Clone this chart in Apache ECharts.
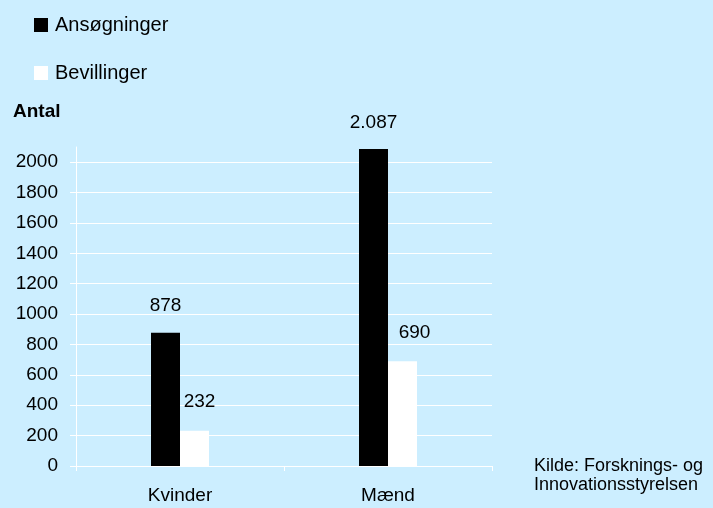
<!DOCTYPE html>
<html>
<head>
<meta charset="utf-8">
<script src="https://cdn.jsdelivr.net/npm/echarts@6/dist/echarts.min.js"></script>
<style>
  html, body { margin: 0; padding: 0; background: #cceeff; }
  #main { width: 713px; height: 508px; }
</style>
</head>
<body>
<div id="main"></div>
<script>
// data
const categories = ['Kvinder', 'Mænd'];
const ansoegninger = [878, 2087];
const bevillinger = [232, 690];
const seriesNames = ['Ansøgninger', 'Bevillinger'];

const font = '"Liberation Sans", Arial, sans-serif';
// labels i originalen sidder lidt forskudt til højre
const whiteLabelShift = [5, 12];

// dansk tusindtalsseparator: 2087 -> 2.087
function fmt(v) {
  return String(v).replace(/\B(?=(\d{3})+(?!\d))/g, '.');
}

const chart = echarts.init(document.getElementById('main'));

const barLabel = {
  show: true,
  position: 'top',
  distance: 17,
  fontFamily: font,
  fontSize: 19,
  color: '#000',
  formatter: (p) => fmt(p.value),
};

const option = {
  backgroundColor: '#cceeff',
  textStyle: { fontFamily: font, color: '#000' },
  title: [
    {
      text: 'Antal',
      left: 8,
      top: 97,
      textStyle: { fontFamily: font, fontSize: 19, fontWeight: 'bold', color: '#000' },
    },
    {
      text: 'Kilde: Forsknings- og\nInnovationsstyrelsen',
      left: 529,
      top: 452,
      textStyle: { fontFamily: font, fontSize: 18, fontWeight: 'normal', color: '#000', lineHeight: 19 },
    },
  ],
  legend: {
    data: seriesNames,
    orient: 'vertical',
    left: 29,
    top: 10,
    itemWidth: 14,
    itemHeight: 14,
    itemGap: 28,
    icon: 'rect',
    textStyle: { fontFamily: font, fontSize: 20, color: '#000', padding: [0, 0, 0, 2] },
  },
  grid: {
    left: 76,
    right: 221,
    top: 147,
    bottom: 42,
    containLabel: false,
  },
  xAxis: {
    type: 'category',
    data: categories,
    axisLine: { lineStyle: { color: '#fff', width: 1 } },
    axisTick: { show: true, length: 5, lineStyle: { color: '#fff' } },
    axisLabel: { fontFamily: font, fontSize: 19, color: '#000', margin: 20 },
  },
  yAxis: {
    type: 'value',
    min: 0,
    max: 2100,
    interval: 200,
    axisLine: { show: true, lineStyle: { color: '#fff', width: 1 } },
    axisTick: { show: true, length: 6, lineStyle: { color: '#fff' } },
    axisLabel: {
      fontFamily: font,
      fontSize: 19,
      color: '#000',
      margin: 18,
      showMaxLabel: false,
      formatter: (v) => String(v),
    },
    splitLine: { show: true, showMaxLine: false, lineStyle: { color: '#fff', width: 1 } },
  },
  series: [
    {
      name: seriesNames[0],
      type: 'bar',
      data: ansoegninger,
      barWidth: 29,
      barGap: '0%',
      itemStyle: { color: '#000' },
      label: barLabel,
    },
    {
      name: seriesNames[1],
      type: 'bar',
      data: bevillinger.map((v, i) => ({
        value: v,
        label: { offset: [whiteLabelShift[i], 0] },
      })),
      barWidth: 29,
      barGap: '0%',
      itemStyle: { color: '#fff' },
      label: Object.assign({}, barLabel, { distance: 19 }),
    },
  ],
};

chart.setOption(option);
</script>
</body>
</html>
